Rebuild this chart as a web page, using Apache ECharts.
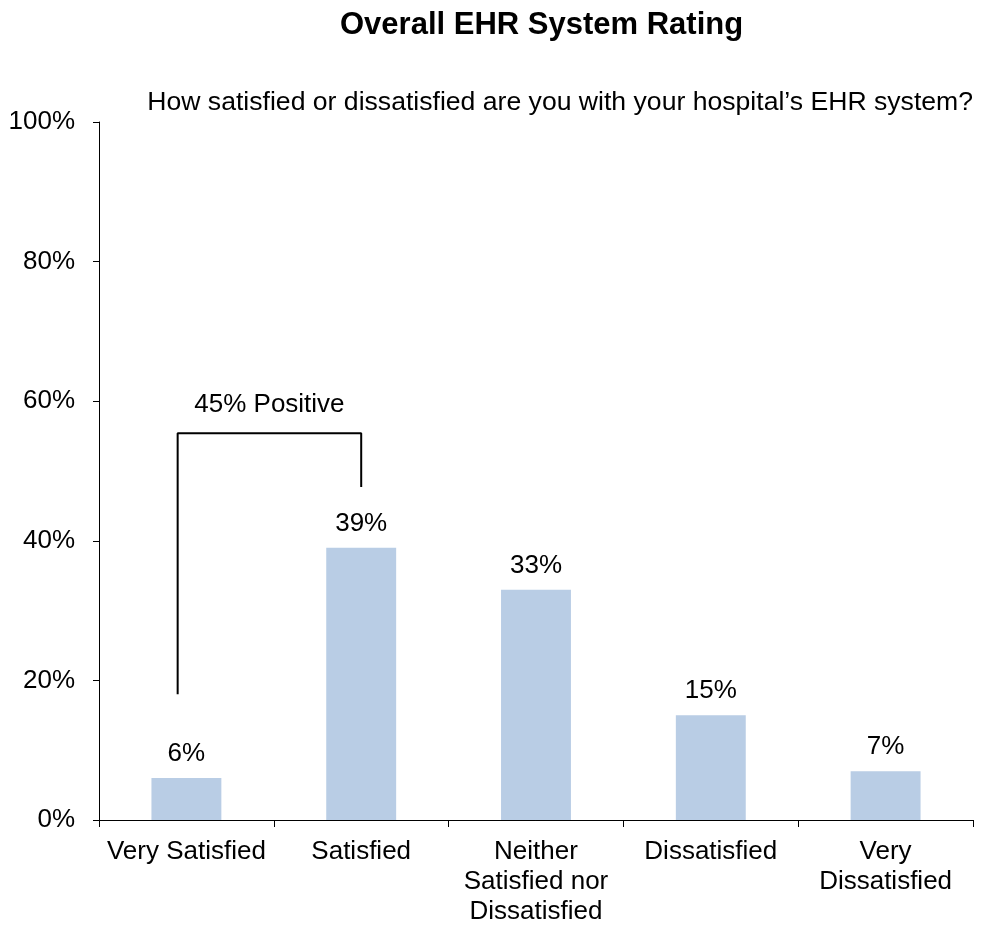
<!DOCTYPE html>
<html>
<head>
<meta charset="utf-8">
<script src="https://cdn.jsdelivr.net/npm/echarts@6/dist/echarts.min.js"></script>
<style>html,body{margin:0;padding:0;background:#fff}#c{width:987px;height:930px}</style>
</head>
<body>
<div id="c"></div>
<script>
const categories = ['Very Satisfied', 'Satisfied', 'Neither\nSatisfied nor\nDissatisfied', 'Dissatisfied', 'Very\nDissatisfied'];
const values = [6, 39, 33, 15, 7];
const yTicks = [0, 20, 40, 60, 80, 100];
// bracket annotation: x in category-index units, y in percent
const bracketX = [-0.05, -0.05, 1, 1];
const bracketY = [18, 55.4, 55.4, 47.7];
const bracketLabel = '45% Positive';

const chart = echarts.init(document.getElementById('c'));
const font = 'Arial, "Liberation Sans", sans-serif';
const fs = 26;
chart.setOption({
  animation: false,
  title: [
    { text: 'Overall EHR System Rating', left: 335, top: 5,
      textStyle: { fontFamily: font, fontWeight: 'bold', fontSize: 31, color: '#000' } },
    { text: 'How satisfied or dissatisfied are you with your hospital\u2019s EHR system?', right: 9, top: 84,
      textStyle: { fontFamily: font, fontWeight: 'normal', fontSize: 26.6, color: '#000' } }
  ],
  grid: { left: 99, right: 14, top: 122, bottom: 110 },
  xAxis: [
    { type: 'category', data: categories,
      axisLine: { onZero: false, lineStyle: { color: '#000', width: 1 } },
      axisTick: { show: true, length: 7, lineStyle: { color: '#000' } },
      axisLabel: { fontFamily: font, fontSize: fs, color: '#000', margin: 17, lineHeight: 30, interval: 0 } },
    { type: 'value', min: -0.5, max: 4.5, show: false }
  ],
  yAxis: {
    type: 'value', min: yTicks[0], max: yTicks[yTicks.length - 1], interval: 20,
    axisLine: { show: true, onZero: false, lineStyle: { color: '#000', width: 1 } },
    axisTick: { show: true, length: 6, lineStyle: { color: '#000' } },
    splitLine: { show: false },
    axisLabel: { fontFamily: font, fontSize: fs, color: '#000', margin: 24, formatter: '{value}%' }
  },
  series: [
    { type: 'bar', data: values, barWidth: '40%', xAxisIndex: 0,
      itemStyle: { color: '#B9CDE5' },
      label: { show: true, position: 'top', distance: 11, formatter: '{c}%',
        fontFamily: font, fontSize: fs, color: '#000' } },
    { type: 'line', xAxisIndex: 1, symbol: 'none', silent: true,
      data: bracketX.map((x, i) => [x, bracketY[i]]),
      lineStyle: { color: '#000', width: 2 },
      markPoint: {
        symbol: 'rect', symbolSize: 1, itemStyle: { color: 'transparent' },
        data: [{ coord: [(bracketX[1] + bracketX[2]) / 2, bracketY[1]],
          label: { show: true, formatter: bracketLabel, position: 'top', distance: 15,
            fontFamily: font, fontSize: fs, color: '#000' } }]
      } }
  ]
});
</script>
</body>
</html>
